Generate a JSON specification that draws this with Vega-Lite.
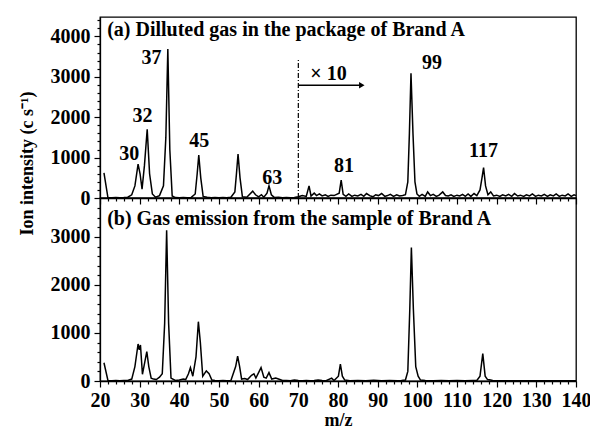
{
  "$schema": "https://vega.github.io/schema/vega-lite/v6.json",
  "padding": {"left": 17, "top": 16, "right": 12, "bottom": 2},
  "background": "white",
  "config": {
    "font": "Liberation Serif",
    "view": {"stroke": "black", "strokeWidth": 1.3},
    "axis": {
      "labelFont": "Liberation Serif", "labelFontSize": 20, "labelFontWeight": "bold", "labelColor": "black", "labelOverlap": false, "labelFlush": false,
      "titleFont": "Liberation Serif", "titleFontSize": 18, "titleFontWeight": "bold", "titleColor": "black",
      "domainColor": "black", "domainWidth": 1.3, "tickColor": "black", "tickWidth": 1.2, "grid": false, "format": "d"
    },
    "text": {"font": "Liberation Serif", "fontWeight": "bold", "fontSize": 20, "color": "black"}
  },
  "datasets": {
    "spec": [
      {"p":"a","x":21,"y":620},{"p":"a","x":22,"y":10},{"p":"a","x":23,"y":5},{"p":"a","x":24,"y":10},{"p":"a","x":25,"y":5},{"p":"a","x":26,"y":10},{"p":"a","x":27,"y":20},{"p":"a","x":28,"y":80},{"p":"a","x":28.8,"y":300},{"p":"a","x":29.6,"y":840},{"p":"a","x":30.1,"y":600},{"p":"a","x":30.6,"y":220},{"p":"a","x":31.2,"y":800},{"p":"a","x":31.9,"y":1700},{"p":"a","x":32.5,"y":600},{"p":"a","x":33.2,"y":100},{"p":"a","x":34,"y":20},{"p":"a","x":35,"y":60},{"p":"a","x":36,"y":300},{"p":"a","x":36.6,"y":1500},{"p":"a","x":37.1,"y":3690},{"p":"a","x":37.6,"y":1200},{"p":"a","x":38.2,"y":50},{"p":"a","x":39,"y":10},{"p":"a","x":40,"y":5},{"p":"a","x":41,"y":10},{"p":"a","x":42,"y":5},{"p":"a","x":43,"y":15},{"p":"a","x":44,"y":100},{"p":"a","x":44.5,"y":600},{"p":"a","x":44.9,"y":1060},{"p":"a","x":45.4,"y":500},{"p":"a","x":46,"y":40},{"p":"a","x":47,"y":20},{"p":"a","x":48,"y":5},{"p":"a","x":49,"y":10},{"p":"a","x":50,"y":5},{"p":"a","x":51,"y":10},{"p":"a","x":52,"y":5},{"p":"a","x":53,"y":20},{"p":"a","x":54,"y":150},{"p":"a","x":54.4,"y":600},{"p":"a","x":54.8,"y":1090},{"p":"a","x":55.3,"y":500},{"p":"a","x":55.9,"y":30},{"p":"a","x":57,"y":20},{"p":"a","x":58.5,"y":170},{"p":"a","x":59.2,"y":80},{"p":"a","x":60,"y":30},{"p":"a","x":60.7,"y":80},{"p":"a","x":61.3,"y":20},{"p":"a","x":62.1,"y":120},{"p":"a","x":62.6,"y":300},{"p":"a","x":63.2,"y":80},{"p":"a","x":64,"y":10},{"p":"a","x":65,"y":20},{"p":"a","x":66,"y":5},{"p":"a","x":67,"y":10},{"p":"a","x":68,"y":5},{"p":"a","x":69,"y":10},{"p":"a","x":70,"y":30},{"p":"a","x":71,"y":60},{"p":"a","x":72,"y":40},{"p":"a","x":72.7,"y":300},{"p":"a","x":73.2,"y":50},{"p":"a","x":74,"y":120},{"p":"a","x":74.6,"y":60},{"p":"a","x":75.3,"y":100},{"p":"a","x":76,"y":50},{"p":"a","x":76.8,"y":80},{"p":"a","x":77.5,"y":40},{"p":"a","x":78.2,"y":70},{"p":"a","x":79,"y":60},{"p":"a","x":80.3,"y":120},{"p":"a","x":80.8,"y":440},{"p":"a","x":81.3,"y":90},{"p":"a","x":82,"y":40},{"p":"a","x":82.7,"y":100},{"p":"a","x":83.5,"y":40},{"p":"a","x":84.2,"y":70},{"p":"a","x":85,"y":50},{"p":"a","x":85.8,"y":90},{"p":"a","x":86.5,"y":40},{"p":"a","x":87.2,"y":110},{"p":"a","x":88,"y":60},{"p":"a","x":88.8,"y":30},{"p":"a","x":89.5,"y":80},{"p":"a","x":90.2,"y":60},{"p":"a","x":91,"y":110},{"p":"a","x":91.8,"y":40},{"p":"a","x":92.5,"y":60},{"p":"a","x":93.2,"y":90},{"p":"a","x":94,"y":40},{"p":"a","x":94.8,"y":80},{"p":"a","x":95.5,"y":50},{"p":"a","x":96.3,"y":60},{"p":"a","x":97,"y":80},{"p":"a","x":97.6,"y":400},{"p":"a","x":98,"y":1600},{"p":"a","x":98.4,"y":3090},{"p":"a","x":98.9,"y":1600},{"p":"a","x":99.4,"y":400},{"p":"a","x":99.9,"y":100},{"p":"a","x":100.5,"y":40},{"p":"a","x":101.2,"y":90},{"p":"a","x":102,"y":40},{"p":"a","x":102.6,"y":150},{"p":"a","x":103.3,"y":60},{"p":"a","x":104,"y":90},{"p":"a","x":104.8,"y":40},{"p":"a","x":105.5,"y":70},{"p":"a","x":106.4,"y":150},{"p":"a","x":107.1,"y":60},{"p":"a","x":107.8,"y":50},{"p":"a","x":108.5,"y":80},{"p":"a","x":109.2,"y":40},{"p":"a","x":110,"y":70},{"p":"a","x":110.7,"y":50},{"p":"a","x":111.4,"y":90},{"p":"a","x":112.1,"y":40},{"p":"a","x":112.8,"y":100},{"p":"a","x":113.5,"y":40},{"p":"a","x":114.3,"y":110},{"p":"a","x":115,"y":60},{"p":"a","x":115.8,"y":200},{"p":"a","x":116.3,"y":500},{"p":"a","x":116.7,"y":750},{"p":"a","x":117.2,"y":300},{"p":"a","x":117.8,"y":80},{"p":"a","x":118.5,"y":150},{"p":"a","x":119.2,"y":50},{"p":"a","x":120,"y":70},{"p":"a","x":120.8,"y":40},{"p":"a","x":121.5,"y":80},{"p":"a","x":122.3,"y":50},{"p":"a","x":123,"y":90},{"p":"a","x":123.8,"y":40},{"p":"a","x":124.5,"y":110},{"p":"a","x":125.3,"y":50},{"p":"a","x":126,"y":70},{"p":"a","x":126.8,"y":40},{"p":"a","x":127.5,"y":80},{"p":"a","x":128.3,"y":50},{"p":"a","x":129,"y":100},{"p":"a","x":129.8,"y":40},{"p":"a","x":130.5,"y":70},{"p":"a","x":131.3,"y":50},{"p":"a","x":132,"y":90},{"p":"a","x":132.8,"y":40},{"p":"a","x":133.5,"y":80},{"p":"a","x":134.3,"y":50},{"p":"a","x":135,"y":100},{"p":"a","x":135.8,"y":40},{"p":"a","x":136.5,"y":70},{"p":"a","x":137.3,"y":50},{"p":"a","x":138,"y":100},{"p":"a","x":138.8,"y":40},{"p":"a","x":139.5,"y":80},{"p":"a","x":140,"y":60},
      {"p":"b","x":21,"y":380},{"p":"b","x":22,"y":10},{"p":"b","x":23,"y":5},{"p":"b","x":24,"y":10},{"p":"b","x":25,"y":5},{"p":"b","x":26,"y":10},{"p":"b","x":27,"y":10},{"p":"b","x":28,"y":40},{"p":"b","x":28.8,"y":300},{"p":"b","x":29.6,"y":770},{"p":"b","x":29.9,"y":650},{"p":"b","x":30.2,"y":750},{"p":"b","x":30.7,"y":140},{"p":"b","x":31.3,"y":400},{"p":"b","x":31.8,"y":610},{"p":"b","x":32.3,"y":300},{"p":"b","x":32.9,"y":60},{"p":"b","x":33.5,"y":40},{"p":"b","x":34.2,"y":30},{"p":"b","x":35,"y":80},{"p":"b","x":35.7,"y":150},{"p":"b","x":36.3,"y":1200},{"p":"b","x":36.8,"y":3140},{"p":"b","x":37.3,"y":1200},{"p":"b","x":37.9,"y":60},{"p":"b","x":39,"y":10},{"p":"b","x":40,"y":20},{"p":"b","x":41,"y":40},{"p":"b","x":41.6,"y":30},{"p":"b","x":42.3,"y":150},{"p":"b","x":42.8,"y":280},{"p":"b","x":43.4,"y":100},{"p":"b","x":44.2,"y":500},{"p":"b","x":44.8,"y":1235},{"p":"b","x":45.3,"y":800},{"p":"b","x":45.9,"y":100},{"p":"b","x":46.8,"y":210},{"p":"b","x":47.5,"y":150},{"p":"b","x":48.2,"y":20},{"p":"b","x":49,"y":10},{"p":"b","x":50,"y":5},{"p":"b","x":51,"y":10},{"p":"b","x":52,"y":5},{"p":"b","x":53,"y":10},{"p":"b","x":54.2,"y":300},{"p":"b","x":54.7,"y":520},{"p":"b","x":55.2,"y":300},{"p":"b","x":55.7,"y":40},{"p":"b","x":56.5,"y":50},{"p":"b","x":57.2,"y":30},{"p":"b","x":58.2,"y":120},{"p":"b","x":58.8,"y":150},{"p":"b","x":59.3,"y":60},{"p":"b","x":60.6,"y":280},{"p":"b","x":61.3,"y":80},{"p":"b","x":61.9,"y":60},{"p":"b","x":62.6,"y":175},{"p":"b","x":63.3,"y":40},{"p":"b","x":64.3,"y":60},{"p":"b","x":65,"y":40},{"p":"b","x":66,"y":10},{"p":"b","x":67,"y":10},{"p":"b","x":68,"y":5},{"p":"b","x":69,"y":20},{"p":"b","x":70,"y":10},{"p":"b","x":71,"y":5},{"p":"b","x":72,"y":10},{"p":"b","x":73,"y":5},{"p":"b","x":74,"y":10},{"p":"b","x":75,"y":20},{"p":"b","x":76,"y":10},{"p":"b","x":77,"y":5},{"p":"b","x":78.4,"y":60},{"p":"b","x":79,"y":10},{"p":"b","x":80.1,"y":100},{"p":"b","x":80.6,"y":350},{"p":"b","x":81.1,"y":100},{"p":"b","x":81.7,"y":20},{"p":"b","x":83,"y":5},{"p":"b","x":85,"y":10},{"p":"b","x":87,"y":5},{"p":"b","x":89,"y":15},{"p":"b","x":91,"y":5},{"p":"b","x":93,"y":10},{"p":"b","x":95,"y":5},{"p":"b","x":96,"y":10},{"p":"b","x":97,"y":20},{"p":"b","x":97.6,"y":200},{"p":"b","x":98.1,"y":1500},{"p":"b","x":98.5,"y":2780},{"p":"b","x":99,"y":1500},{"p":"b","x":99.6,"y":300},{"p":"b","x":100.2,"y":100},{"p":"b","x":100.8,"y":20},{"p":"b","x":102,"y":10},{"p":"b","x":104,"y":5},{"p":"b","x":106,"y":10},{"p":"b","x":108,"y":5},{"p":"b","x":110,"y":10},{"p":"b","x":112,"y":5},{"p":"b","x":114,"y":10},{"p":"b","x":115,"y":10},{"p":"b","x":115.8,"y":100},{"p":"b","x":116.5,"y":570},{"p":"b","x":117.1,"y":100},{"p":"b","x":117.7,"y":30},{"p":"b","x":118.5,"y":20},{"p":"b","x":119,"y":10},{"p":"b","x":120,"y":5},{"p":"b","x":125,"y":5},{"p":"b","x":130,"y":5},{"p":"b","x":135,"y":5},{"p":"b","x":140,"y":5}
    ],
    "labels": [
      {"x":27.4,"y":1086,"t":"30"},{"x":30.7,"y":2025,"t":"32"},{"x":33.0,"y":3460,"t":"37"},{"x":45.0,"y":1407,"t":"45"},{"x":63.4,"y":494,"t":"63"},{"x":81.5,"y":790,"t":"81"},{"x":103.7,"y":3333,"t":"99"},{"x":116.7,"y":1160,"t":"117"},{"x":77.6,"y":3060,"t":"× 10"}
    ]
  },
  "spacing": 0,
  "bounds": "flush",
  "vconcat": [
    {
      "width": 476, "height": 181,
      "resolve": {"axis": {"x": "independent", "y": "independent"}},
      "layer": [
        {
          "data": {"name": "spec"},
          "transform": [{"filter": "datum.p == 'a'"}],
          "mark": {"type": "line", "color": "black", "strokeWidth": 1.5, "clip": true},
          "encoding": {
            "x": {"field": "x", "type": "quantitative", "scale": {"domain": [20, 140], "nice": false},
                  "axis": {"orient": "bottom", "values": [20,30,40,50,60,70,80,90,100,110,120,130,140], "labels": false, "tickSize": 6, "title": null}},
            "y": {"field": "y", "type": "quantitative", "scale": {"domain": [0, 4480], "nice": false},
                  "axis": {"orient": "left", "values": [0,1000,2000,3000,4000], "tickSize": 6, "labelPadding": 4,
                           "title": "Ion intensity (c s⁻¹)", "titleX": -64, "titleY": 146, "titleAngle": -90, "titleAlign": "center", "titleBaseline": "bottom"}}
          }
        },
        {
          "data": {"name": "spec"},
          "transform": [{"filter": "datum.p == 'a'"}],
          "mark": {"type": "line", "strokeOpacity": 0},
          "encoding": {
            "x": {"field": "x", "type": "quantitative", "axis": {"orient": "bottom", "values": [22,24,26,28,32,34,36,38,42,44,46,48,52,54,56,58,62,64,66,68,72,74,76,78,82,84,86,88,92,94,96,98,102,104,106,108,112,114,116,118,122,124,126,128,132,134,136,138], "labels": false, "tickSize": 3, "domain": false, "title": null}},
            "y": {"field": "y", "type": "quantitative", "axis": {"orient": "left", "values": [200,400,600,800,1200,1400,1600,1800,2200,2400,2600,2800,3200,3400,3600,3800,4200,4400], "labels": false, "tickSize": 3, "domain": false, "title": null}}
          }
        },
        {
          "data": {"values": [{"x": 70, "y": 0, "y2": 3430}]},
          "mark": {"type": "rule", "color": "black", "strokeWidth": 1.2, "strokeDash": [5, 2, 1, 2]},
          "encoding": {
            "x": {"field": "x", "type": "quantitative", "axis": null},
            "y": {"field": "y", "type": "quantitative", "axis": null},
            "y2": {"field": "y2"}
          }
        },
        {
          "data": {"values": [{"x": 70, "x2": 85.5, "y": 2790}]},
          "mark": {"type": "rule", "color": "black", "strokeWidth": 1.5},
          "encoding": {
            "x": {"field": "x", "type": "quantitative", "axis": null},
            "x2": {"field": "x2"},
            "y": {"field": "y", "type": "quantitative", "axis": null}
          }
        },
        {
          "data": {"values": [{"x": 86.0, "y": 2790}]},
          "mark": {"type": "point", "shape": "triangle-right", "filled": true, "color": "black", "size": 40, "opacity": 1},
          "encoding": {
            "x": {"field": "x", "type": "quantitative", "axis": null},
            "y": {"field": "y", "type": "quantitative", "axis": null}
          }
        },
        {
          "data": {"name": "labels"},
          "mark": {"type": "text", "align": "center", "baseline": "middle"},
          "encoding": {
            "x": {"field": "x", "type": "quantitative", "axis": null},
            "y": {"field": "y", "type": "quantitative", "axis": null},
            "text": {"field": "t"}
          }
        },
        {
          "data": {"values": [{"x": 21.8, "y": 4148, "t": "(a) Dilluted gas in the package of Brand A"}]},
          "mark": {"type": "text", "align": "left", "baseline": "middle"},
          "encoding": {
            "x": {"field": "x", "type": "quantitative", "axis": null},
            "y": {"field": "y", "type": "quantitative", "axis": null},
            "text": {"field": "t"}
          }
        }
      ]
    },
    {
      "width": 476, "height": 183,
      "resolve": {"axis": {"x": "independent", "y": "independent"}},
      "layer": [
        {
          "data": {"name": "spec"},
          "transform": [{"filter": "datum.p == 'b'"}],
          "mark": {"type": "line", "color": "black", "strokeWidth": 1.5, "clip": true},
          "encoding": {
            "x": {"field": "x", "type": "quantitative", "scale": {"domain": [20, 140], "nice": false},
                  "axis": {"orient": "bottom", "values": [20,30,40,50,60,70,80,90,100,110,120,130,140], "tickSize": 6, "labelPadding": 3, "title": "m/z", "titlePadding": 1}},
            "y": {"field": "y", "type": "quantitative", "scale": {"domain": [0, 3810], "nice": false},
                  "axis": {"orient": "left", "values": [0,1000,2000,3000], "tickSize": 6, "labelPadding": 4, "title": null}}
          }
        },
        {
          "data": {"name": "spec"},
          "transform": [{"filter": "datum.p == 'b'"}],
          "mark": {"type": "line", "strokeOpacity": 0},
          "encoding": {
            "x": {"field": "x", "type": "quantitative", "axis": {"orient": "bottom", "values": [22,24,26,28,32,34,36,38,42,44,46,48,52,54,56,58,62,64,66,68,72,74,76,78,82,84,86,88,92,94,96,98,102,104,106,108,112,114,116,118,122,124,126,128,132,134,136,138], "labels": false, "tickSize": 3, "domain": false, "title": null}},
            "y": {"field": "y", "type": "quantitative", "axis": {"orient": "left", "values": [200,400,600,800,1200,1400,1600,1800,2200,2400,2600,2800,3200,3400,3600], "labels": false, "tickSize": 3, "domain": false, "title": null}}
          }
        },
        {
          "data": {"values": [{"x": 21.8, "y": 3375, "t": "(b) Gas emission from the sample of Brand A"}]},
          "mark": {"type": "text", "align": "left", "baseline": "middle"},
          "encoding": {
            "x": {"field": "x", "type": "quantitative", "axis": null},
            "y": {"field": "y", "type": "quantitative", "axis": null},
            "text": {"field": "t"}
          }
        }
      ]
    }
  ]
}
